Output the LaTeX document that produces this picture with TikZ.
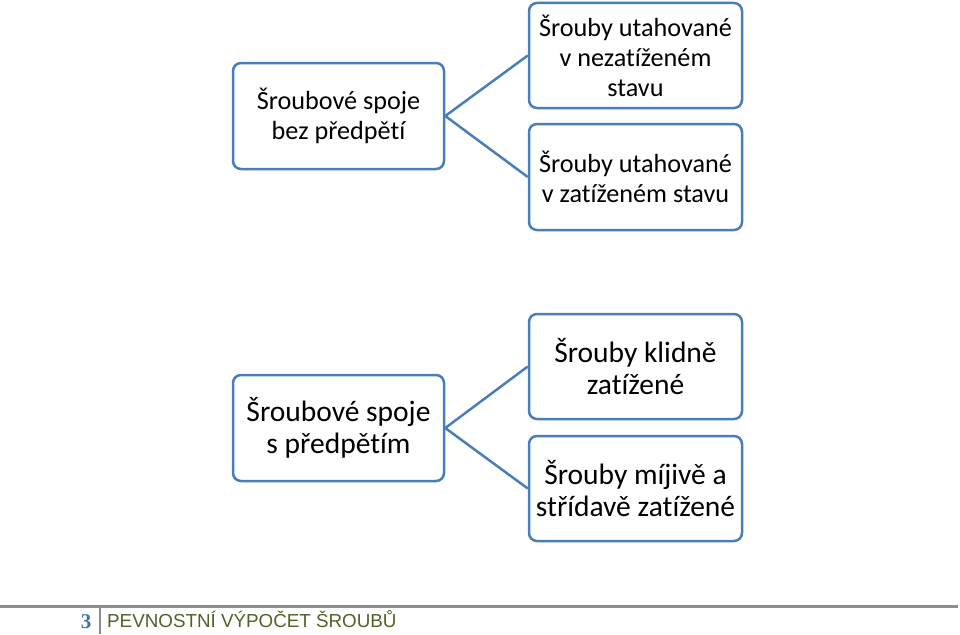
\documentclass[tikz,border=0pt]{standalone}
\usepackage{fontspec}
\setmainfont{Carlito}[Ligatures=NoCommon]
\newfontfamily\arialf{Liberation Sans}
\newfontfamily\timesf{Liberation Serif}
\definecolor{boxblue}{RGB}{74,126,187}
\definecolor{footgray}{RGB}{140,140,140}
\definecolor{footgreen}{RGB}{79,98,40}
\definecolor{numblue}{RGB}{69,114,167}
\tikzset{
  box/.style={draw=boxblue, line width=2.5pt, rounded corners=8pt, fill=white,
    minimum width=#1, align=center, inner sep=0pt},
  box/.default=211pt,
  link/.style={draw=boxblue, line width=2.5pt},
  smalltxt/.style={font=\fontsize{26.2}{30}\selectfont},
  bigtxt/.style={font=\fontsize{29.5}{31.5}\selectfont},
}
\begin{document}
\begin{tikzpicture}[x=1pt,y=1pt]
\useasboundingbox (0,0) rectangle (960,-634);
% top group
\node[box=211pt, minimum height=106pt, smalltxt] (a1) at (338.5,-116) {Šroubové spoje\\bez předpětí};
\node[box=213pt, minimum height=105pt, smalltxt] (b1) at (635.5,-55.5) {Šrouby utahované\\v nezatíženém\\stavu};
\node[box=213pt, minimum height=106pt, smalltxt] (c1) at (635.5,-177) {Šrouby utahované\\v zatíženém stavu};
\draw[link] (b1.west) -- (a1.east) -- (c1.west);
% bottom group
\node[box=211pt, minimum height=106pt, bigtxt] (a2) at (338.5,-428) {Šroubové spoje\\s předpětím};
\node[box=213pt, minimum height=105pt, bigtxt] (b2) at (635.5,-366.5) {Šrouby klidně\\zatížené};
\node[box=213pt, minimum height=105pt, bigtxt] (c2) at (635.5,-488.5) {Šrouby míjivě a\\střídavě zatížené};
\draw[link] (b2.west) -- (a2.east) -- (c2.west);
% footer
\coordinate (fl) at (0,-606);
\coordinate (fr) at (958,-606);
\coordinate (vt) at (100,-606);
\coordinate (vb) at (100,-634);
\draw[footgray, line width=3pt] (fl) -- (fr);
\draw[footgray, line width=2pt] (vt) -- (vb);
\node[anchor=base, text=numblue, font=\timesf\bfseries\fontsize{21}{24}\selectfont, inner sep=0pt] (num) at (86,-628) {3};
\node[anchor=base west, text=footgreen, font=\arialf\fontsize{18.8}{22}\selectfont, inner sep=0pt] (title) at (107,-627) {PEVNOSTNÍ VÝPOČET ŠROUBŮ};
\end{tikzpicture}
\end{document}
